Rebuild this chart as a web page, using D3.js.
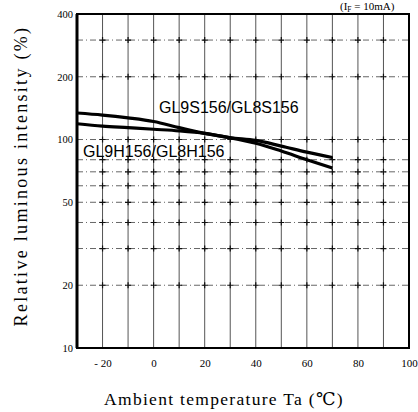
<!DOCTYPE html>
<html><head><meta charset="utf-8">
<script src="https://cdn.jsdelivr.net/npm/d3@7"></script>
<style>body{margin:0;background:#fff}svg{display:block}</style>
</head><body>
<script>
const temps = [-30, -20, -10, 0, 10, 20, 30, 40, 50, 60, 70];
const seriesS = [134, 131, 127, 122, 114, 107, 102, 96, 88, 80, 73];
const seriesH = [119, 116, 114, 112, 110, 107, 102, 99, 93, 87, 82];
const xTicks = [-20, 0, 20, 40, 60, 80, 100];
const xGrid = [-20, -10, 0, 10, 20, 30, 40, 50, 60, 70, 80, 90];
const yTicks = [10, 20, 50, 100, 200, 400];
const yGrid = [20, 30, 40, 50, 60, 70, 80, 100, 200, 300];
const labelS = "GL9S156/GL8S156";
const labelH = "GL9H156/GL8H156";

const W = 418, H = 412;
const svg = d3.select("body").append("svg").attr("width", W).attr("height", H);
const L = 77, R = 409, T = 14, B = 348;
const x = d3.scaleLinear().domain([-30, 100]).range([L, R]);
const y = d3.scaleLog().domain([10, 400]).range([B, T]);
const serif = "'Liberation Serif','DejaVu Serif',serif";
const sans = "'Liberation Sans',Arial,sans-serif";

// grid
svg.append("g").selectAll("line").data(xGrid).join("line")
  .attr("x1", d => x(d)).attr("x2", d => x(d)).attr("y1", T).attr("y2", B)
  .attr("stroke", "#555").attr("stroke-width", 1);
svg.append("g").selectAll("line").data(yGrid).join("line")
  .attr("x1", L).attr("x2", R).attr("y1", d => y(d)).attr("y2", d => y(d))
  .attr("stroke", "#666").attr("stroke-width", 1).attr("stroke-dasharray", "6,3,1,3");
const crosses = [];
xGrid.forEach(a => yGrid.forEach(b => crosses.push([a, b])));
svg.append("g").selectAll("path").data(crosses).join("path")
  .attr("d", d => `M${x(d[0]) - 3},${y(d[1])}h6M${x(d[0])},${y(d[1]) - 3}v6`)
  .attr("stroke", "#111").attr("stroke-width", 1.2);

// frame
svg.append("rect").attr("x", L).attr("y", T).attr("width", R - L).attr("height", B - T)
  .attr("fill", "none").attr("stroke", "#000").attr("stroke-width", 2);
svg.append("line").attr("x1", L).attr("x2", L).attr("y1", T).attr("y2", B).attr("stroke", "#000").attr("stroke-width", 3);

// axes
const xAxis = d3.axisBottom(x).tickValues(xTicks).tickSize(0).tickPadding(11)
  .tickFormat(d => d < 0 ? "- " + Math.abs(d) : d);
const gx = svg.append("g").attr("transform", `translate(0,${B})`).call(xAxis);
gx.select(".domain").remove();
gx.selectAll("text").attr("font-family", serif).attr("font-size", 11).attr("fill", "#000");

const yAxis = d3.axisLeft(y).tickValues(yTicks).tickSize(0).tickPadding(4).tickFormat(d3.format("d"));
const gy = svg.append("g").attr("transform", `translate(${L},0)`).call(yAxis);
gy.select(".domain").remove();
gy.selectAll("text").attr("font-family", serif).attr("font-size", 10.5).attr("fill", "#000");

// curves
const line = d3.line().x((d, i) => x(temps[i])).y(d => y(d)).curve(d3.curveMonotoneX);
[seriesS, seriesH].forEach(s => {
  svg.append("path").datum(s).attr("d", line).attr("fill", "none")
    .attr("stroke", "#000").attr("stroke-width", 3.2);
});

// labels
svg.append("text").attr("x", 159).attr("y", 113).text(labelS)
  .attr("font-family", sans).attr("font-size", 16).attr("fill", "#000");
svg.append("text").attr("x", 83).attr("y", 157).text(labelH)
  .attr("font-family", sans).attr("font-size", 16).attr("fill", "#000");

// axis titles
svg.append("text").attr("x", 224).attr("y", 405).attr("text-anchor", "middle")
  .attr("font-family", serif).attr("font-size", 17.5).attr("letter-spacing", 1.3).text("Ambient temperature Ta (℃)");
svg.append("text").attr("transform", `translate(27,176) rotate(-90)`).attr("text-anchor", "middle")
  .attr("font-family", serif).attr("font-size", 18).attr("letter-spacing", 2.3).text("Relative luminous intensity (%)");

// condition note
const note = svg.append("text").attr("x", 340).attr("y", 10).attr("font-family", serif).attr("font-size", 11);
note.append("tspan").text("(I");
note.append("tspan").attr("font-size", 7.5).attr("dy", 2).text("F");
note.append("tspan").attr("dy", -2).text(" = 10mA)");
</script>
</body></html>
